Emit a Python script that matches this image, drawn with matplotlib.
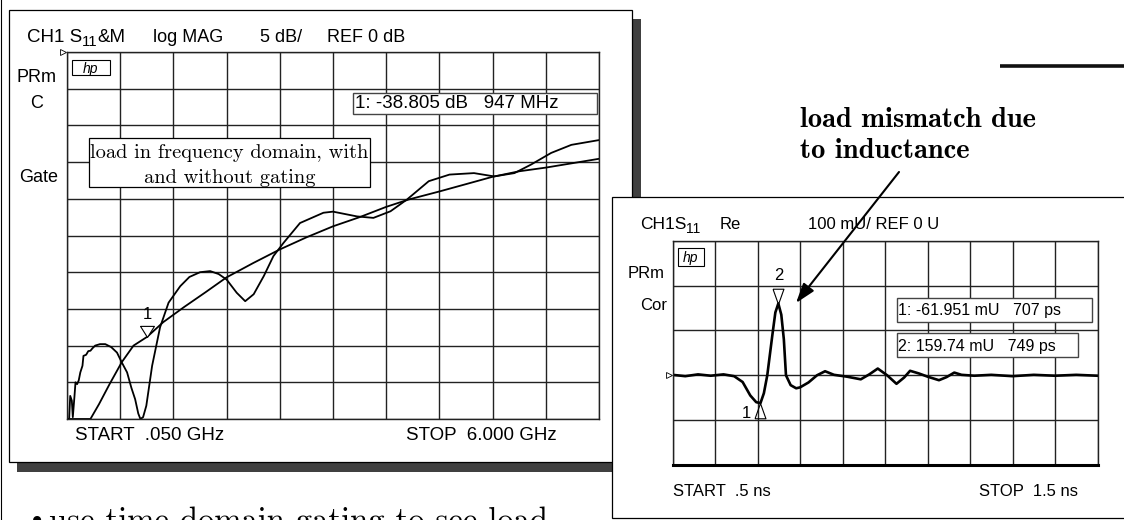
import numpy as np
import matplotlib
matplotlib.use("Agg")
import matplotlib.pyplot as plt
from matplotlib.patches import Rectangle
from matplotlib.transforms import blended_transform_factory

plt.rcParams['font.family'] = ['Liberation Sans', 'DejaVu Sans']

W, H = 1124, 520

# left screen: S11 log MAG, 5 dB/div, ref 0 dB at top, 0.05 .. 6 GHz
f_start, f_stop = 0.05, 6.0
db_top, db_div = 0, 5
gated_f = [0.05, 0.312, 0.407, 0.526, 0.663, 0.794, 0.947, 1.127, 1.359, 1.597, 1.835,
           2.133, 2.43, 2.728, 3.025, 3.323, 3.62, 3.87, 4.215, 4.513, 4.81, 5.108,
           5.405, 5.703, 6.0]
gated_db = [-50, -50, -48.0, -45.25, -42.25, -40.0, -38.8, -36.8, -34.75, -32.75, -30.7,
            -28.75, -26.9, -25.25, -23.75, -22.5, -21.1, -20.1, -19.0, -18.0, -17.0, -16.25,
            -15.75, -15.15, -14.55]
raw_f = [0.05, 0.074, 0.086, 0.104, 0.115, 0.133, 0.145, 0.163, 0.181, 0.199, 0.223, 0.234,
         0.264, 0.288, 0.312, 0.336, 0.365, 0.419, 0.478, 0.544, 0.609, 0.663, 0.722, 0.77,
         0.812, 0.847, 0.871, 0.901, 0.937, 1.002, 1.091, 1.186, 1.317, 1.419, 1.538, 1.651,
         1.746, 1.835, 1.948, 2.043, 2.138, 2.252, 2.359, 2.472, 2.656, 2.918, 3.025, 3.293,
         3.477, 3.668, 3.852, 4.096, 4.328, 4.602, 4.828, 5.054, 5.238, 5.465, 5.691, 6.0]
raw_db = [-50, -50, -46.85, -47.5, -49.75, -47.0, -45.0, -45.25, -44.75, -43.65, -42.75, -41.4,
          -41.25, -40.75, -40.7, -40.35, -40.0, -39.8, -39.8, -40.2, -40.95, -42.3, -43.65, -45.75,
          -47.3, -49.25, -50, -49.75, -48.2, -42.75, -37.5, -34.15, -31.9, -30.65, -30.0, -29.85,
          -30.25, -31.0, -32.8, -33.95, -33.0, -30.5, -27.8, -26.0, -23.3, -21.9, -21.75, -22.4,
          -22.6, -21.7, -20.1, -17.6, -16.7, -16.5, -16.95, -16.5, -15.35, -13.75, -12.65, -12.0]
mk1_f, mk1_db = 0.947, -38.805

# right screen: S11 Re, 100 mU/div, ref 0 U, 0.5 .. 1.5 ns
t_start, t_stop = 0.5, 1.5
mu_top, mu_div = 300, 100
t_ns = [0.50, 0.53, 0.56, 0.59, 0.62, 0.645, 0.665, 0.683, 0.697, 0.707, 0.715, 0.723, 0.735,
        0.742, 0.749, 0.756, 0.762, 0.767, 0.778, 0.791, 0.80, 0.82, 0.84, 0.859, 0.88, 0.91,
        0.943, 0.963, 0.983, 1.005, 1.027, 1.045, 1.059, 1.08, 1.10, 1.127, 1.145, 1.163, 1.18,
        1.21, 1.25, 1.30, 1.35, 1.40, 1.45, 1.50]
re_mu = [1, -2, 2, -1, 2, -2, -15, -45, -60, -62, -40, 0, 90, 140, 160, 135, 80, 0, -22, -29,
         -27, -16, 0, 9, 1, -3, -9, 2, 15, 0, -19, -5, 10, 4, -3, -11, -4, 6, 1, -1, 1, -2, 1,
         -1, 1, -1]
mk_t = [0.707, 0.749]
mk_mu = [-61.951, 159.74]

fig = plt.figure(figsize=(W / 100, H / 100), dpi=100)
rend = fig.canvas.get_renderer()


def px_axes(x0, y0, x1, y1, z):
    return fig.add_axes([x0 / W, 1 - y1 / H, (x1 - x0) / W, (y1 - y0) / H], zorder=z)


back = px_axes(0, 0, W, H, 0)
back.set(xlim=(0, W), ylim=(H, 0)); back.axis('off')
back.plot([1, 1], [0, H], color='k', lw=0.8)
back.add_patch(Rectangle((17, 19), 624, 453, fc='#404040', ec='none', zorder=1))
back.add_patch(Rectangle((8.5, 9.5), 623, 452, fc='white', ec='k', lw=0.9, zorder=2))
back.add_patch(Rectangle((611.5, 196.5), 530, 321.5, fc='white', ec='k', lw=0.9, zorder=3))
back.plot([1000, W], [66, 66], color='#111', lw=2.6, solid_capstyle='butt')


def screen(ax, xt, yt, thick_bottom=False):
    ax.set_xticks(xt); ax.set_yticks(yt)
    ax.set_xlim(xt[0], xt[-1]); ax.set_ylim(yt[0], yt[-1])
    ax.grid(True, color='#222', lw=1.0)
    ax.set_axisbelow(True)
    ax.tick_params(length=0, labelbottom=False, labelleft=False)
    for s in ax.spines.values():
        s.set_color('#222'); s.set_linewidth(1.0)
    if thick_bottom:
        ax.spines['bottom'].set_linewidth(2.2)
        ax.spines['bottom'].set_color('k')


tri_down = [(-1, 1.6), (1, 1.6), (0, 0), (-1, 1.6)]
tri_down_tall = [(-1, 2.8), (1, 2.8), (0, 0), (-1, 2.8)]
tri_up_tall = [(-1, -2.8), (1, -2.8), (0, 0), (-1, -2.8)]

# ---- left screen
axL = px_axes(67, 52, 599, 419, 5)
screen(axL, np.linspace(f_start, f_stop, 11), np.arange(db_top - 10 * db_div, db_top + 1, db_div))
axL.plot(gated_f, gated_db, color='k', lw=1.3)
axL.plot(raw_f, raw_db, color='k', lw=1.3)
axL.plot([mk1_f], [mk1_db], marker=tri_down, ms=16, mfc='white', mec='k', mew=0.8, ls='none')
axL.annotate('1', (mk1_f, mk1_db), xytext=(0, 22), textcoords='offset pixels',
             ha='center', va='center', fontsize=12)
trL = blended_transform_factory(axL.transAxes, axL.transData)
axL.plot([-0.008], [db_top], transform=trL, marker='>', ms=4, mfc='white', mec='k', mew=0.6,
         clip_on=False)

# ---- right screen
axR = px_axes(672.5, 240.7, 1097.5, 465, 5)
screen(axR, np.linspace(t_start, t_stop, 11), np.arange(mu_top - 5 * mu_div, mu_top + 1, mu_div),
       thick_bottom=True)
axR.plot(t_ns, re_mu, color='k', lw=1.9)
axR.plot([mk_t[1]], [mk_mu[1]], marker=tri_down_tall, ms=22, mfc='none',
         mec='k', mew=0.8, ls='none')
axR.plot([mk_t[0]], [mk_mu[0]], marker=tri_up_tall, ms=22, mfc='none',
         mec='k', mew=0.8, ls='none')
axR.annotate('2', (mk_t[1], mk_mu[1]), xytext=(0, 28), textcoords='offset pixels',
             ha='center', va='center', fontsize=12)
axR.annotate('1', (mk_t[0], mk_mu[0]), xytext=(-14, -10), textcoords='offset pixels',
             ha='center', va='center', fontsize=12)
trR = blended_transform_factory(axR.transAxes, axR.transData)
axR.plot([-0.008], [0], transform=trR, marker='>', ms=4, mfc='white', mec='k', mew=0.6,
         clip_on=False)

# ---- texts, boxes and arrow on top
top = px_axes(0, 0, W, H, 10)
top.set(xlim=(0, W), ylim=(H, 0)); top.axis('off')
top.patch.set_alpha(0)


def run_text(x, y, parts, fs):
    # consecutive pieces; second item True -> subscript
    for s, sub in parts:
        t = top.text(x, y + (4 if sub else 0), s, va='baseline', fontsize=fs * (0.8 if sub else 1))
        x += t.get_window_extent(rend).width


sans = dict(fontsize=13, color='k')
run_text(27, 42, [('CH1 S', False), ('11', True), ('&M', False)], 13.5)
top.text(153, 42, 'log MAG', va='baseline', **sans)
top.text(260, 42, '5 dB/', va='baseline', **sans)
top.text(327, 42, 'REF 0 dB', va='baseline', **sans)
top.text(17, 78, 'PRm', va='center', **sans)
top.text(30, 103, 'C', va='center', **sans)
top.text(19, 177, 'Gate', va='center', **sans)
top.text(75, 435, 'START  .050 GHz', va='center', fontsize=13.5)
top.text(406, 435, 'STOP  6.000 GHz', va='center', fontsize=13.5)

top.add_patch(Rectangle((353, 93), 244, 21, fc='white', ec='#444', lw=1.0))
top.text(355, 104, '1: -38.805 dB   947 MHz', va='center', fontsize=13.5)

top.add_patch(Rectangle((89, 138), 281, 49, fc='white', ec='k', lw=0.9))
top.text(229.5, 158, 'load in frequency domain, with', ha='center', va='baseline',
         family='cmr10', fontsize=14.7)
top.text(229.5, 183, 'and without gating', ha='center', va='baseline',
         family='cmr10', fontsize=14.7)

# hp logos
for (x0, y0, w, h, fs) in [(72, 60, 38, 15, 10), (678, 248, 26, 18, 10)]:
    top.add_patch(Rectangle((x0, y0), w, h, fc='white', ec='k', lw=0.8))
    top.text(x0 + w / 2, y0 + h / 2 + 1, 'hp', ha='center', va='center', fontsize=fs,
             style='italic')

sans_r = dict(fontsize=12, color='k')
run_text(640, 229, [('CH1S', False), ('11', True)], 12.5)
top.text(720, 229, 'Re', va='baseline', **sans_r)
top.text(808, 229, '100 mU/ REF 0 U', va='baseline', **sans_r)
top.text(628, 274, 'PRm', va='center', **sans_r)
top.text(640, 306, 'Cor', va='center', **sans_r)
top.text(673, 492, 'START  .5 ns', va='center', **sans_r)
top.text(979, 492, 'STOP  1.5 ns', va='center', **sans_r)

top.add_patch(Rectangle((897, 298), 195, 24, fc='white', ec='#444', lw=1.0))
top.text(898, 311, '1: -61.951 mU   707 ps', va='center', fontsize=11.5)
top.add_patch(Rectangle((897, 333), 181, 24, fc='white', ec='#444', lw=1.0))
top.text(898, 346, '2: 159.74 mU   749 ps', va='center', fontsize=11.5)

top.text(800, 127, 'load mismatch due', va='baseline', family='cmb10', fontsize=20.5)
top.text(800, 158, 'to inductance', va='baseline', family='cmb10', fontsize=20.5)
top.annotate('', xy=(796, 303), xytext=(899, 172),
             arrowprops=dict(arrowstyle='-|>,head_length=1.2,head_width=0.4', color='k',
                             lw=1.5, mutation_scale=10, shrinkA=0, shrinkB=0))

top.text(37, 523, '\u2022', ha='center', va='center', family='DejaVu Serif', fontsize=20)
top.text(49, 530, 'use time domain gating to see load', va='baseline', family='cmr10',
         fontsize=23.5)

fig.savefig('out.png', dpi=100)
